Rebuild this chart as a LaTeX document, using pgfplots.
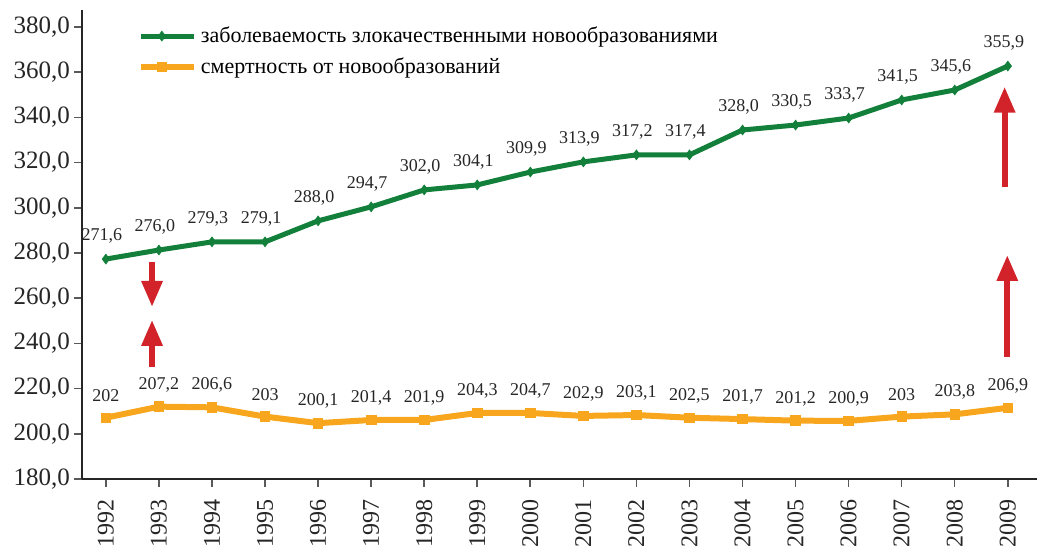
\documentclass[border=0pt]{standalone}
\usepackage{fontspec}
\setmainfont{Liberation Serif}
\usepackage{pgfplots}
\pgfplotsset{compat=1.18}
\usetikzlibrary{arrows.meta}
\definecolor{incgreen}{RGB}{18,128,58}
\definecolor{mortorange}{RGB}{247,166,30}
\definecolor{arrowred}{RGB}{210,35,42}

% year, plotted position, printed label
\pgfplotstableread{
year val lbl
1992 277.3 271,6
1993 281.3 276,0
1994 284.9 279,3
1995 284.9 279,1
1996 294.2 288,0
1997 300.4 294,7
1998 307.9 302,0
1999 310.1 304,1
2000 315.8 309,9
2001 320.3 313,9
2002 323.4 317,2
2003 323.4 317,4
2004 334.4 328,0
2005 336.6 330,5
2006 339.7 333,7
2007 347.7 341,5
2008 352.1 345,6
2009 362.7 355,9
}\incidence

\pgfplotstableread{
year val lbl
1992 207.1 202
1993 212.0 207,2
1994 211.7 206,6
1995 207.6 203
1996 204.7 200,1
1997 206.1 201,4
1998 206.1 201,9
1999 209.2 204,3
2000 209.2 204,7
2001 207.9 202,9
2002 208.3 203,1
2003 207.1 202,5
2004 206.5 201,7
2005 205.8 201,2
2006 205.7 200,9
2007 207.6 203
2008 208.6 203,8
2009 211.5 206,9
}\mortality

\begin{document}
\begin{tikzpicture}
\begin{axis}[
  scale only axis, width=477.5pt, height=234.5pt,
  xmin=1991.55, xmax=2009.55, ymin=180, ymax=387.5,
  axis lines=left, axis line style={-, line width=1.2pt, black!85},
  xtick={1992,...,2009}, ytick={180,200,...,380},
  tick align=outside, major tick length=4pt,
  tick style={line width=0.8pt, black!65},
  /pgf/number format/assume math mode=true,
  xticklabel shift=2.5pt, yticklabel shift=-1.5pt,
  x tick label style={rotate=90, anchor=east, font=\fontsize{12}{14}\selectfont, text=black!85,
    /pgf/number format/1000 sep={}},
  y tick label style={font=\fontsize{12.5}{14}\selectfont, text=black!85,
    /pgf/number format/fixed, /pgf/number format/fixed zerofill,
    /pgf/number format/precision=1, /pgf/number format/use comma},
  legend style={at={(0.056,0.978)}, anchor=north west, draw=none, fill=none,
    font=\fontsize{11}{13}\selectfont, row sep=2pt, inner sep=1pt},
  legend cell align=left,
  legend image code/.code={\path (0pt,0pt) -- (26.5pt,0pt);
    \draw[#1, mark repeat=2, mark phase=2]
    plot coordinates {(0pt,0pt) (10.5pt,0pt) (21pt,0pt)};},
  clip=false,
]
\addplot[incgreen, line width=2.5pt, mark=diamond*, mark size=2.4pt,
  mark options={solid, line width=0.4pt},
  nodes near coords, point meta=explicit symbolic,
  every node near coord/.append style={font=\fontsize{9}{10}\selectfont, text=black!85,
    anchor=center, xshift=-2pt, yshift=11.5pt}]
  table[x=year, y=val, meta=lbl] {\incidence};
\addlegendentry{заболеваемость злокачественными новообразованиями}
\addplot[mortorange, line width=3pt, mark=square*, mark size=2.4pt,
  mark options={solid, line width=0.4pt},
  nodes near coords, point meta=explicit symbolic,
  every node near coord/.append style={font=\fontsize{9}{10}\selectfont, text=black!85,
    anchor=center, yshift=11pt}]
  table[x=year, y=val, meta=lbl] {\mortality};
\addlegendentry{смертность от новообразований}

\draw[arrowred, line width=3pt, -{Triangle[width=10pt,length=13pt]}]
  (1992.87,276.0) -- (1992.87,256.1);
\draw[arrowred, line width=3pt, -{Triangle[width=10pt,length=13pt]}]
  (1992.87,229.6) -- (1992.87,250.4);
\draw[arrowred, line width=3pt, -{Triangle[width=10pt,length=13pt]}]
  (2008.94,309.3) -- (2008.94,353.6);
\draw[arrowred, line width=3pt, -{Triangle[width=10pt,length=13pt]}]
  (2008.99,234.1) -- (2008.99,279.1);

\coordinate (bl) at (rel axis cs:0,0);
\coordinate (tr) at (rel axis cs:1,1);
\end{axis}
\pgfresetboundingbox
\path[use as bounding box] ([xshift=-41pt,yshift=-34.5pt]bl) rectangle ([xshift=3.5pt,yshift=5pt]tr);
\end{tikzpicture}
\end{document}
